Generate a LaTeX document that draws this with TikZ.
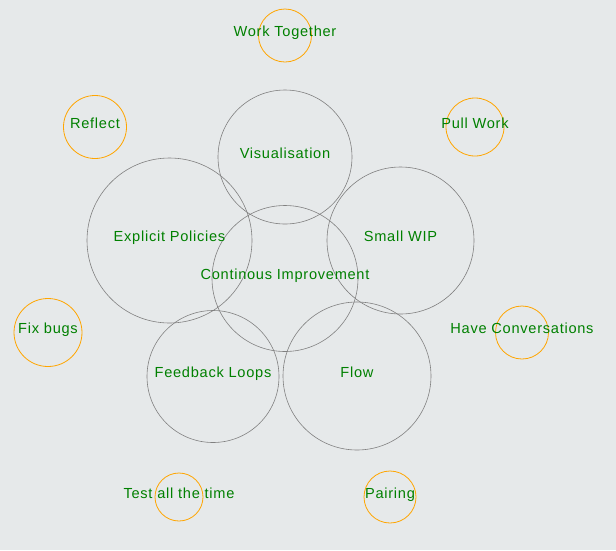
\documentclass[tikz,border=0pt]{standalone}
\usepackage{fontspec}
\setmainfont{Liberation Sans}[LetterSpace=5]
\usetikzlibrary{positioning}
\definecolor{bgpaper}{RGB}{230,233,234}
\definecolor{practicegray}{RGB}{128,128,128}
\definecolor{habitorange}{RGB}{255,165,0}
\definecolor{textgreen}{RGB}{0,128,0}

\begin{document}
\begin{tikzpicture}[x=1pt, y=-1pt]
      % Styles
      \tikzset{practice/.style={draw=practicegray, circle, inner sep=0pt, line width=0.6pt, minimum size=#1}}
      \tikzset{habit/.style={draw=habitorange, circle, inner sep=0pt, line width=0.8pt, minimum size=#1}}
      \tikzset{caption/.style={text=textgreen, anchor=base, inner sep=0pt, yshift=-1pt, font=\fontsize{14.6}{16}\selectfont}}

      % Background and page size
      \fill[bgpaper] (0,0) rectangle (616,550);
      \useasboundingbox (0,0) rectangle (616,550);

      % --- Core practices (gray circles) ---
      \node[practice=134pt] (vis) at (285,157) {};
      \node[practice=165pt] (policies) at (169.5,240.5) {};
      \node[practice=147pt] (wip) at (400.5,240.5) {};
      \node[practice=146pt] (improve) at (285,278.5) {};
      \node[practice=132pt] (feedback) at (213,376.5) {};
      \node[practice=148pt] (flow) at (357,376) {};

      \node[caption] (visT) at (vis.center) {Visualisation};
      \node[caption] (policiesT) at (policies.center) {Explicit Policies};
      \node[caption] (wipT) at (wip.center) {Small WIP};
      \node[caption] (improveT) at (improve.center) {Continous Improvement};
      \node[caption] (feedbackT) at (feedback.center) {Feedback Loops};
      \node[caption] (flowT) at (flow.center) {Flow};

      % --- Habits around the edge (orange circles) ---
      \node[habit=53pt] (together) at (285,35.5) {};
      \node[habit=63pt] (reflect) at (95,127) {};
      \node[habit=58pt] (pull) at (475,127) {};
      \node[habit=68pt] (bugs) at (48,332.5) {};
      \node[habit=53pt] (talk) at (522,332.5) {};
      \node[habit=48pt] (testing) at (179,497) {};
      \node[habit=52pt] (pairing) at (390,497) {};

      \node[caption] (togetherT) at (together.center) {Work Together};
      \node[caption] (reflectT) at (reflect.center) {Reflect};
      \node[caption] (pullT) at (pull.center) {Pull Work};
      \node[caption] (bugsT) at (bugs.center) {Fix bugs};
      \node[caption] (talkT) at (talk.center) {Have Conversations};
      \node[caption] (testingT) at (testing.center) {Test all the time};
      \node[caption] (pairingT) at (pairing.center) {Pairing};

    \end{tikzpicture}
\end{document}
